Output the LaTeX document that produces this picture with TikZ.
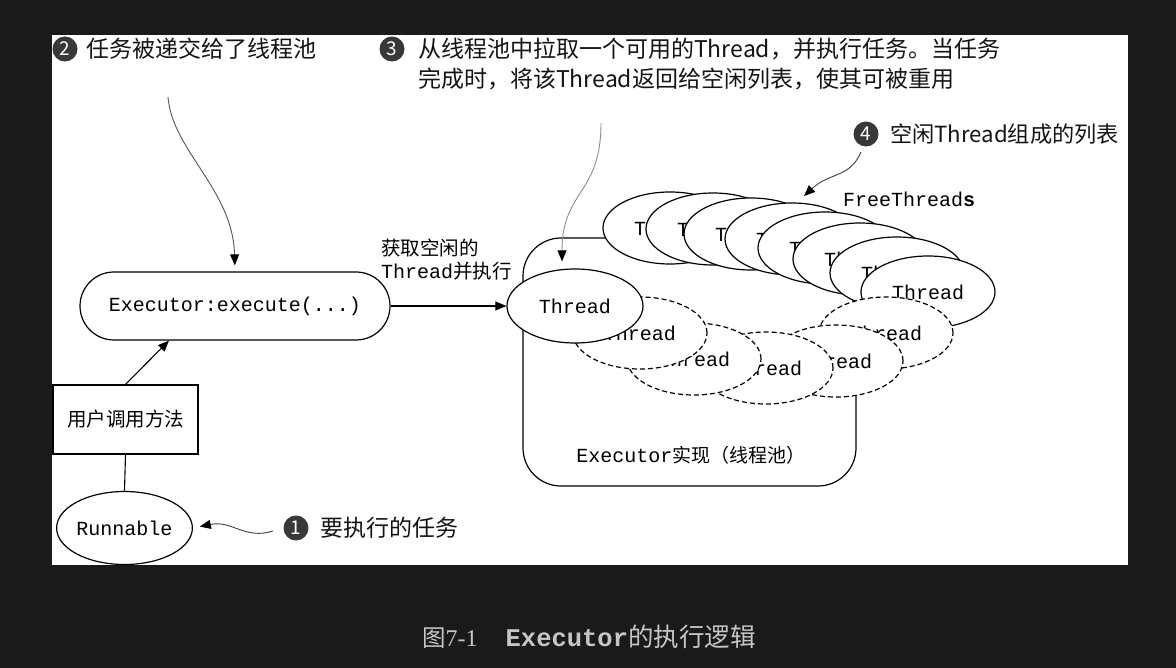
\documentclass[tikz,border=0pt]{standalone}
\usepackage{fontspec}
\setmainfont{Liberation Serif}
\setmonofont{Liberation Mono}
\newfontfamily\cjk{Noto Sans CJK SC}
\usetikzlibrary{shapes.geometric,arrows.meta,calc}

\definecolor{pagebg}{HTML}{1A1A1A}
\definecolor{capgrey}{HTML}{C6C6C6}
\definecolor{badge}{HTML}{383838}
\definecolor{leadgrey}{HTML}{555555}
\definecolor{leadlight}{HTML}{8E8E8E}

\newcommand\monof{\ttfamily\fontsize{20}{24}\selectfont}
\newcommand\cjkf{\cjk\fontsize{19.5}{24}\selectfont}
\newcommand\notef{\cjk\fontsize{23}{30}\selectfont}

\begin{document}
\begin{tikzpicture}[x=1pt,y=-1pt,
  thr/.style={ellipse, draw=black, line width=1.2pt, fill=white,
    minimum width=134pt, minimum height=72pt, inner sep=0pt, font=\monof},
  dthr/.style={thr, dash pattern=on 5pt off 3pt},
  boxline/.style={draw=black, line width=1.2pt, fill=white, inner sep=0pt},
  arr/.style={-{Triangle[length=11pt,width=9pt]}, line width=1.1pt},
  lead/.style={-{Triangle[length=11pt,width=9pt,color=black]}, line width=0.9pt},
  badgec/.style={circle, fill=badge, text=white, minimum size=25pt, inner sep=0pt,
    font=\cjk\fontsize{19}{19}\selectfont},
  note/.style={anchor=west, inner sep=0pt, text=black!92, font=\notef, align=left},
]
\useasboundingbox (0,0) rectangle (1176,668);
\fill[pagebg] (0,0) rectangle (1176,668);
\fill[white] (52,35) rectangle (1128,565);

% thread pool container
\node[boxline, rounded corners=38pt, minimum width=333pt, minimum height=248pt] (pool) at (689.5,362) {};

% free thread list, back to front
\node[thr] (f1) at (670,228) {Thread};
\node[thr] (f2) at (713,229) {Thread};
\node[thr] (f3) at (751,234) {Thread};
\node[thr] (f4) at (792,239) {Thread};
\node[thr] (f5) at (825,248) {Thread};
\node[thr] (f6) at (860,259) {Thread};
\node[thr] (f7) at (897,273) {Thread};
\node[thr] (f8) at (928,292) {Thread};

% busy threads, back to front
\node[dthr] (d5) at (886,333) {Thread};
\node[dthr] (d4) at (836,361) {Thread};
\node[dthr] (d3) at (766,368) {Thread};
\node[dthr] (d2) at (694,359) {Thread};
\node[dthr] (d1) at (640,333) {Thread};
\node[thr, minimum width=136pt, minimum height=74pt] (thr) at (575,306) {Thread};

\node[inner sep=0pt] (poollbl) at (691,455) {{\monof Executor}{\cjk\fontsize{19}{24}\selectfont 实现（线程池）}};
\node[anchor=west, inner sep=0pt] (freelbl) at (843,199) {\monof FreeThread\textbf{s}};

% caller side
\node[boxline, rounded corners=34pt, minimum width=310pt, minimum height=68pt, font=\monof] (exec) at (235,306) {Executor:execute(...)};
\node[boxline, minimum width=145pt, minimum height=69pt, font=\cjkf] (box) at (125.5,419.5) {用户调用方法};
\node[thr, minimum width=135pt, minimum height=73pt] (run) at (124.5,528) {Runnable};

\draw[line width=1.1pt] (run.north) -- (box.south);
\draw[arr] (box.north) -- ($(exec.south)+(-66,0)$);
\draw[arr] (exec.east) -- (thr.west);
\node[anchor=west, inner sep=0pt, align=left] (getlbl) at (381,259.5)
  {{\cjkf 获取空闲的}\\[4pt]{\monof Thread}{\cjkf 并执行}};

% callouts
\node[badgec] (n2) at (65,49) {2};
\node[note] (t2) at (86,49) {任务被递交给了线程池};
\node[badgec] (n3) at (392,49) {3};
\node[note] (t3) at (418,64) {从线程池中拉取一个可用的Thread，并执行任务。当任务\\完成时，将该Thread返回给空闲列表，使其可被重用};
\node[badgec] (n4) at (866,134) {4};
\node[note, font=\cjk\fontsize{22.2}{30}\selectfont] (t4) at (890,134) {空闲Thread组成的列表};
\node[badgec] (n1) at (296,528) {1};
\node[note] (t1) at (320,528) {要执行的任务};

\coordinate (s1) at (273,531);
\coordinate (s2) at (168,97);
\coordinate (s3) at (601,123);
\coordinate (s4) at (861,152);
\coordinate (e4) at (804,196);

\draw[lead, draw=black!75, shorten >=7pt] (s1) .. controls (245,540) and (232,520) .. (run.east);
\draw[lead, draw=leadgrey, shorten >=6pt] (s2) .. controls (172,150) and (233,190) .. (exec.north);
\draw[lead, draw=leadlight] (s3) .. controls (601,195) and (562,190) .. ($(thr.north)+(-13,-7)$);
\draw[lead, draw=black!75] (s4) .. controls (850,178) and (830,172) .. (e4);

% caption
\node[anchor=west, inner sep=0pt, text=capgrey] (cap) at (422,637)
  {{\cjk\fontsize{23.5}{26}\selectfont 图}{\fontsize{24}{26}\selectfont 7-1}\hspace{28pt}{\ttfamily\bfseries\fontsize{25.5}{26}\selectfont Executor}{\cjk\fontsize{25.5}{26}\selectfont 的执行逻辑}};
\end{tikzpicture}
\end{document}
